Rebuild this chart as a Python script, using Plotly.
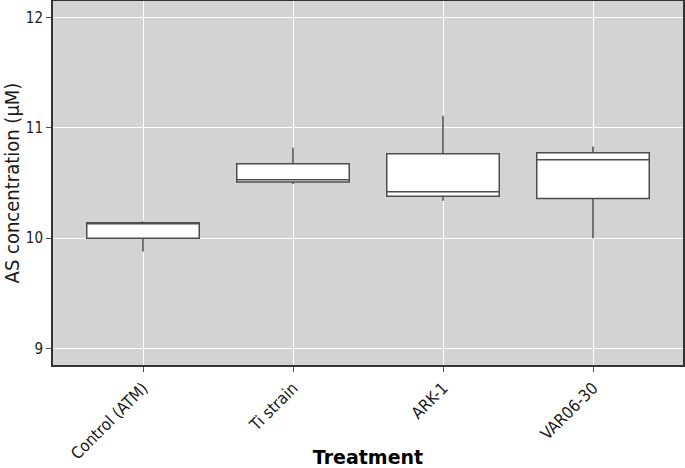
import plotly.graph_objects as go

categories = ["Control (ATM)", "Ti strain", "ARK-1", "VAR06-30"]
lower_whisker = [9.88, 10.49, 10.34, 10.00]
q1_values = [10.00, 10.51, 10.38, 10.36]
median_values = [10.13, 10.53, 10.42, 10.71]
q3_values = [10.14, 10.675, 10.765, 10.775]
upper_whisker = [10.15, 10.82, 11.11, 10.83]
y_ticks = [9, 10, 11, 12]

FONT = "DejaVu Sans, Verdana, sans-serif"
FONT_C = "DejaVu Sans Condensed, DejaVu Sans, sans-serif"

fig = go.Figure()
fig.add_trace(go.Box(
    x=categories,
    q1=q1_values,
    median=median_values,
    q3=q3_values,
    lowerfence=lower_whisker,
    upperfence=upper_whisker,
    fillcolor="white",
    line=dict(color="#4d4d4d", width=1.5),
    whiskerwidth=0,
    width=0.75,
    boxpoints=False,
    showlegend=False,
    hoverinfo="skip",
))

fig.update_layout(
    width=685, height=468,
    margin=dict(l=53, r=2, t=1, b=103),
    paper_bgcolor="white",
    plot_bgcolor="#d3d3d3",
    font=dict(family=FONT, color="#1a1a1a"),
    xaxis=dict(
        type="category",
        categoryorder="array", categoryarray=categories,
        range=[-0.6, 3.6],
        tickangle=-45,
        tickfont=dict(size=16.5, color="#1a1a1a", family=FONT_C),
        ticks="outside", ticklen=5, tickcolor="#4d4d4d", tickwidth=1,
        showgrid=True, gridcolor="white", gridwidth=1.2,
        showline=True, linecolor="#333333", linewidth=2, mirror=True,
        zeroline=False,
        automargin=False,
        title=dict(text="<b>Treatment</b>", font=dict(size=19, color="black", family=FONT), standoff=8),
    ),
    yaxis=dict(
        range=[8.85, 12.15],
        tickvals=y_ticks,
        ticktext=[str(v) for v in y_ticks],
        tickfont=dict(size=15, color="#1a1a1a", family=FONT_C),
        ticks="outside", ticklen=5, tickcolor="#4d4d4d", tickwidth=1,
        showgrid=True, gridcolor="white", gridwidth=1.2,
        showline=True, linecolor="#333333", linewidth=2, mirror=True,
        zeroline=False,
        automargin=False,
        title=dict(text="AS concentration (μM)", font=dict(size=20, color="#1a1a1a", family=FONT_C), standoff=5),
    ),
)

fig.write_html(
    "out.html",
    config={"displayModeBar": False},
    post_script="document.body.style.margin='0';document.body.style.overflow='hidden';",
)
